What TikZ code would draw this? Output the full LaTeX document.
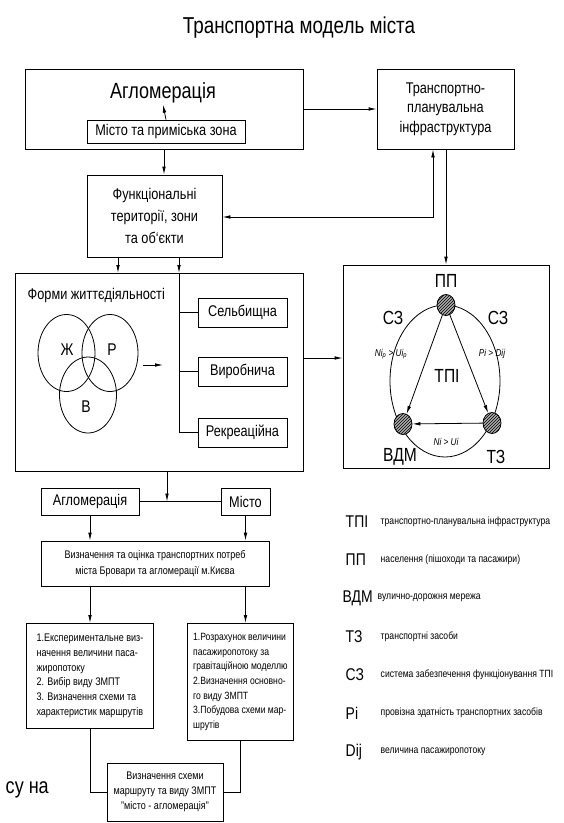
\documentclass[tikz,border=0pt]{standalone}
\usepackage{fontspec}
\setmainfont{Liberation Sans}[FakeStretch=0.82]
\usetikzlibrary{arrows.meta}
\usetikzlibrary{patterns}
\usetikzlibrary{shapes.geometric}
\tikzset{l/.style={font=\fontsize{15.5}{19.5}\selectfont}}
\tikzset{m/.style={font=\fontsize{11}{14.7}\selectfont}}
\tikzset{s/.style={font=\fontsize{10.5}{12}\selectfont}}
\tikzset{big/.style={font=\fontsize{22}{24}\selectfont}}
\tikzset{sym/.style={font=\fontsize{19}{20}\selectfont}}
\tikzset{leg/.style={font=\fontsize{17}{18}\selectfont,anchor=west}}
\tikzset{box/.style={draw,inner sep=2pt}}
\tikzset{arr/.style={-{Latex[length=8pt,width=3.6pt]}}}
\tikzset{hub/.style={ellipse,draw,fill=gray!65,postaction={pattern=north east lines},minimum width=18pt,minimum height=21pt,inner sep=0pt}}

\begin{document}
\begin{tikzpicture}[x=1pt,y=-1pt,line width=0.8pt]
  \useasboundingbox (0,0) rectangle (564,823);
  \node[font=\fontsize{23}{24}\selectfont] (title) at (299,28) {Транспортна модель міста};
  % top row
  \node[box,minimum width=278pt,minimum height=80pt] (aglo) at (164,109) {};
  \node[big,inner sep=1pt] (aglotxt) at (163,93) {Агломерація};
  \node[box,l,minimum width=158pt,minimum height=23pt] (city) at (166,131.5) {Місто та приміська зона};
  \node[box,l,align=center,minimum width=137pt,minimum height=80pt] (infra) at (445.5,109) {Транспортно-\\планувальна\\інфраструктура};
  \node[box,align=center,minimum width=135pt,minimum height=82pt,font=\fontsize{15.5}{22}\selectfont] (func) at (154.5,216) {Функціональні\\території, зони\\та об`єкти};
  \draw[arr] (city.north) -- (aglotxt.south);
  \draw[arr] (aglo.east) -- (infra.west);
  \draw[arr] (aglo.south) -- (aglo.south |- func.north);
  \coordinate (back) at (433,217);
  \draw[{Latex[length=8pt,width=3.6pt]}-{Latex[length=8pt,width=3.6pt]}] (infra.south -| back) -- (back) -- (func.east |- back);
  % forms of life
  \node[box,minimum width=288pt,minimum height=198pt] (forms) at (159,372) {};
  \node[l,anchor=west] (formstxt) at (24,295) {Форми життєдіяльності};
  \node[ellipse,draw,minimum width=57pt,minimum height=77pt] (zh) at (66.5,353) {};
  \node[ellipse,draw,minimum width=56pt,minimum height=77pt] (rr) at (110,353) {};
  \node[ellipse,draw,minimum width=57pt,minimum height=76pt] (vv) at (88,395) {};
  \node[font=\fontsize{17}{18}\selectfont] (zhL) at (67,350) {Ж};
  \node[font=\fontsize{17}{18}\selectfont] (rrL) at (112,350) {Р};
  \node[font=\fontsize{17}{18}\selectfont] (vvL) at (86,407) {В};
  \coordinate (va) at (143,365);
  \coordinate (vb) at (163,365);
  \draw[arr] (va) -- (vb);
  \coordinate (tap1) at (118,273);
  \coordinate (tap2) at (179,273);
  \draw[arr] (func.south -| tap1) -- (tap1);
  \draw[arr] (func.south -| tap2) -- (tap2);
  \node[box,l,minimum width=89pt,minimum height=29pt] (sel) at (242.5,312.5) {Сельбищна};
  \node[box,l,minimum width=89pt,minimum height=29pt] (vyr) at (242.5,371.5) {Виробнича};
  \node[box,l,minimum width=89pt,minimum height=29pt] (rec) at (242.5,432.5) {Рекреаційна};
  \draw (tap2) -- (tap2 |- rec.west) -- (rec.west);
  \draw (tap2 |- sel.west) -- (sel.west);
  \draw (tap2 |- vyr.west) -- (vyr.west);
  % transport model
  \node[box,minimum width=206pt,minimum height=203pt] (circ) at (446,366.5) {};
  \draw[arr] (circ.north |- infra.south) -- (circ.north);
  \coordinate (k3) at (0,358);
  \draw[arr] (forms.east |- k3) -- (circ.west |- k3);
  \node[ellipse,draw,minimum width=110pt,minimum height=152pt,inner sep=0pt] (ring) at (445,381) {};
  \node[hub] (pp) at (446,305) {};
  \node[hub] (vdm) at (403,424) {};
  \node[hub] (tz) at (492,423) {};
  \draw[arr] (pp) -- (vdm);
  \draw[arr] (pp) -- (tz);
  \draw[arr] (tz) -- (vdm);
  \node[sym] (ppL) at (446,281) {ПП};
  \node[sym] (vdmL) at (400,457) {ВДМ};
  \node[sym] (tzL) at (496,457) {ТЗ};
  \node[sym] (sz1) at (393,318) {СЗ};
  \node[sym] (sz2) at (498,318) {СЗ};
  \node[sym] (tpi) at (447,376) {ТПІ};
  \node[font=\fontsize{10}{11}\selectfont\itshape] (nu1) at (391,354) {Ni\textsubscript{p} > Ui\textsubscript{p}};
  \node[font=\fontsize{10}{11}\selectfont\itshape] (pd) at (492,354) {Pi > Dij};
  \node[font=\fontsize{10}{11}\selectfont\itshape] (nu2) at (446,442) {Ni > Ui};
  % lower part
  \node[box,l,minimum width=98pt,minimum height=27pt] (agl2) at (90,501.5) {Агломерація};
  \node[box,l,minimum width=49pt,minimum height=27pt] (city2) at (245.5,501.5) {Місто};
  \draw (agl2) -- (city2);
  \coordinate (j) at (167,501.5);
  \draw[arr] (forms.south -| j) -- (j);
  \node[box,align=center,minimum width=228pt,minimum height=45pt,font=\fontsize{11}{16}\selectfont] (need) at (155,563.5) {Визначення та оцінка транспортних потреб\\міста Бровари та агломерації м.Києва};
  \draw[arr] (agl2.south) -- (agl2.south |- need.north);
  \draw[arr] (city2.south) -- (city2.south |- need.north);
  \node[box,m,align=left,anchor=north west,minimum width=127pt,minimum height=105pt] (exp) at (26,623) {1.Експериментальне виз-\\начення величини паса-\\жиропотоку\\2. Вибір виду ЗМПТ\\3. Визначення схеми та\\характеристик маршрутів};
  \node[box,align=left,anchor=north west,minimum width=106pt,minimum height=117pt,font=\fontsize{10.5}{14.7}\selectfont] (calc) at (187,623) {1.Розрахунок величини\\пасажиропотоку за\\гравітаційною моделлю\\2.Визначення основно-\\го виду ЗМПТ\\3.Побудова схеми мар-\\шрутів};
  \draw[arr] (need.south -| agl2.south) -- (exp.north -| agl2.south);
  \draw[arr] (need.south -| city2.south) -- (calc.north -| city2.south);
  \node[box,m,align=center,minimum width=116pt,minimum height=58pt] (route) at (165,792) {Визначення схеми\\маршруту та виду ЗМПТ\\"місто - агломерація"};
  \draw (exp.south) |- (route.west);
  \draw (calc.south) |- (route.east);
  \node[font=\fontsize{22}{24}\selectfont,anchor=west] (cut) at (2,790) {су на};
  % legend
  \node[leg] (lg1) at (342,522) {ТПІ};
  \node[leg] (lg2) at (342,560) {ПП};
  \node[leg] (lg3) at (339,598) {ВДМ};
  \node[leg] (lg4) at (342,637) {ТЗ};
  \node[leg] (lg5) at (342,675) {СЗ};
  \node[leg] (lg6) at (342,713) {Pi};
  \node[leg] (lg7) at (342,752) {Dij};
  \node[s,anchor=west] (ds1) at (377,522) {транспортно-планувальна інфраструктура};
  \node[s,anchor=west] (ds2) at (377,560) {населення (пішоходи та пасажири)};
  \node[s,anchor=west] (ds3) at (374,598) {вулично-дорожня мережа};
  \node[s,anchor=west] (ds4) at (377,637) {транспортні засоби};
  \node[s,anchor=west] (ds5) at (377,675) {система забезпечення функціонування ТПІ};
  \node[s,anchor=west] (ds6) at (377,713) {провізна здатність транспортних засобів};
  \node[s,anchor=west] (ds7) at (377,752) {величина пасажиропотоку};
\end{tikzpicture}
\end{document}
